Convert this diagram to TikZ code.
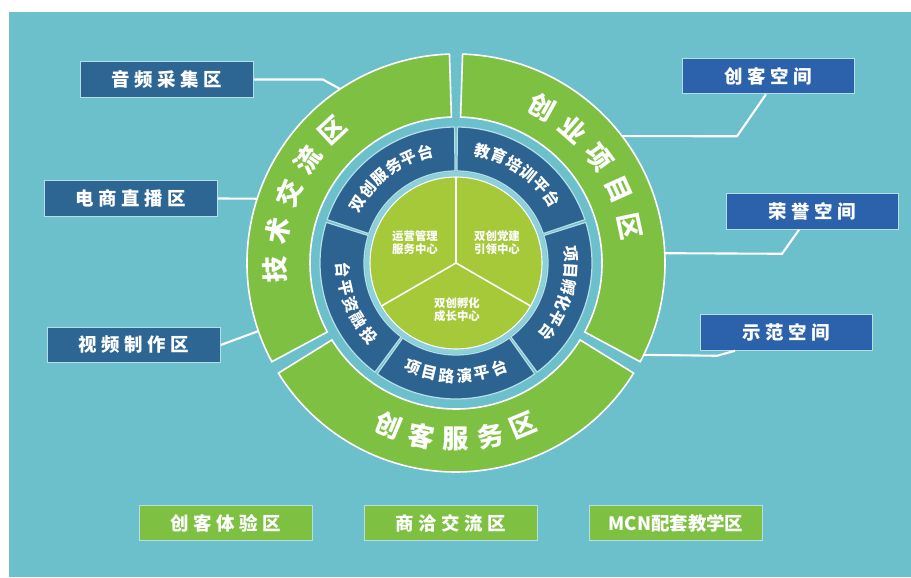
\documentclass[tikz,border=0pt]{standalone}
\usepackage{fontspec}
\setmainfont{Noto Sans CJK SC}
\newfontfamily\spacedfont{Noto Sans CJK SC}[LetterSpace=25]
\usetikzlibrary{positioning}

\definecolor{bgteal}{HTML}{6CC0CC}
\definecolor{ringgreen}{HTML}{7EC142}
\definecolor{coregreen}{HTML}{A6C93A}
\definecolor{ringblue}{HTML}{2D6390}
\definecolor{leftblue}{HTML}{2D6593}
\definecolor{rightblue}{HTML}{2C62AC}
\definecolor{paleteal}{HTML}{8CD0DA}
\definecolor{rimline}{HTML}{B5DEE6}

\tikzset{
  zonebox/.style={draw=rimline, line width=0.6pt, minimum width=3.45cm, minimum height=0.71cm,
    inner sep=0pt, text=white, font=\spacedfont\bfseries\fontsize{10.5}{12}\selectfont},
  leftbox/.style={zonebox, fill=leftblue},
  rightbox/.style={zonebox, fill=rightblue},
  greenbox/.style={zonebox, fill=ringgreen},
  link/.style={draw=white, line width=1.2pt},
  zoneseg/.style={fill=ringgreen, draw=white, line width=0.9pt},
  platseg/.style={fill=ringblue, draw=rimline, line width=0.7pt},
  zonetext/.style={text=white, inner sep=0pt, font=\bfseries\fontsize{15}{15}\selectfont},
  plattext/.style={text=white, inner sep=0pt, font=\bfseries\fontsize{9}{9}\selectfont},
  coretext/.style={text=white, align=center, inner sep=0pt, font=\bfseries\fontsize{6.5}{7.4}\selectfont}
}

\begin{document}
\begin{tikzpicture}[x=0.02cm, y=0.02cm]
    \useasboundingbox (0,0) rectangle (911,577);
    \fill[white] (0,0) rectangle (911,577);
    \fill[bgteal] (9,0) rectangle (911,565);

    % side and bottom zones
    \node[leftbox] (yp) at (167,497.5) {音频采集区};
    \node[leftbox] (ds) at (131,378.5) {电商直播区};
    \node[leftbox] (sp) at (134,232) {视频制作区};
    \node[rightbox] (ck) at (768.5,501) {创客空间};
    \node[rightbox] (ry) at (812.5,365.5) {荣誉空间};
    \node[rightbox] (sf) at (786.5,244.5) {示范空间};
    \node[greenbox] (ty) at (226,54) {创客体验区};
    \node[greenbox, right=1.03cm of ty] (sq) {商洽交流区};
    \node[greenbox, right=1.03cm of sq, font=\bfseries\fontsize{10.5}{12}\selectfont] (mcn) {MCN配套教学区};

    \begin{scope}[shift={(456,314)}]
        \coordinate (ctr) at (0,0);
        \coordinate (e1) at (123.5:208);
        \coordinate (e2) at (162:208);
        \coordinate (e3) at (199:208);
        \coordinate (e4) at (37.6:208);
        \coordinate (e5) at (2.7:208);
        \coordinate (e6) at (-26.2:208);

        \draw[link] (yp.east) -- ++(69,0) -- (e1);
        \draw[link] (ds.east) -- (e2);
        \draw[link] (sp.east) -- (e3);
        \draw[link] ([xshift=-0.05cm]ck.south) -- ++(-29,-42) -- (e4);
        \draw[link] ([xshift=-0.27cm]ry.south) -- ++(-17,-24) -- (e5);
        \draw[link] ([xshift=-1.03cm]sf.south) -- ++(-18,-5) -- (e6);

        % outer ring
        \foreach \a/\b in {91.8/208.2, 211.8/328.2, 331.8/448.2}
            \filldraw[zoneseg] (\a:146) arc[start angle=\a, end angle=\b, radius=146]
                -- (\b:209) arc[start angle=\b, end angle=\a, radius=209] -- cycle;

        % platform ring
        \foreach \a/\b in {18.6/89.4, 90.6/161.4, 162.6/233.4, 234.6/305.4, 306.6/377.4}
            \filldraw[platseg] (\a:92) arc[start angle=\a, end angle=\b, radius=92]
                -- (\b:136) arc[start angle=\b, end angle=\a, radius=136] -- cycle;

        % core
        \fill[paleteal] (ctr) circle[radius=91];
        \filldraw[fill=coregreen, draw=white, line width=0.6pt] (ctr) circle[radius=86];
        \foreach \a in {90,210,330}
            \draw[white, line width=0.9pt] (ctr) -- (\a:86);
        \node[coretext] (yy) at (-41,20) {运营管理\\服务中心};
        \node[coretext] (dj) at (41,20) {双创党建\\引领中心};
        \node[coretext] (fh) at (1,-47) {双创孵化\\成长中心};

        % zone labels on the outer ring
        \foreach \ch [count=\i from 0] in {技,术,交,流,区} {
            \pgfmathsetmacro{\ang}{182-12.25*\i}
            \node[zonetext, rotate=\ang-90] (jl\i) at (\ang:181) {\ch};
        }
        \foreach \ch [count=\i from 0] in {创,业,项,目,区} {
            \pgfmathsetmacro{\ang}{61-12.25*\i}
            \node[zonetext, rotate=\ang-90] (cy\i) at (\ang:178) {\ch};
        }
        \foreach \ch [count=\i from 0] in {创,客,服,务,区} {
            \pgfmathsetmacro{\ang}{247.5+11.25*\i}
            \node[zonetext, rotate=\ang+90] (fw\i) at (\ang:176) {\ch};
        }

        % platform labels
        \foreach \ch [count=\i from 0] in {双,创,服,务,平,台} {
            \pgfmathsetmacro{\ang}{148.8-8.64*\i}
            \node[plattext, rotate=\ang-90] (sc\i) at (\ang:115) {\ch};
        }
        \foreach \ch [count=\i from 0] in {教,育,培,训,平,台} {
            \pgfmathsetmacro{\ang}{76.8-8.6*\i}
            \node[plattext, rotate=\ang-90] (jy\i) at (\ang:115) {\ch};
        }
        \foreach \ch [count=\i from 0] in {项,目,孵,化,平,台} {
            \pgfmathsetmacro{\ang}{4.7-8.4*\i}
            \node[plattext, rotate=\ang-90] (xf\i) at (\ang:115) {\ch};
        }
        \foreach \ch [count=\i from 0] in {项,目,路,演,平,台} {
            \pgfmathsetmacro{\ang}{247.7+8.94*\i}
            \node[plattext, rotate=\ang+90] (ly\i) at (\ang:113) {\ch};
        }
        \foreach \ch [count=\i from 0] in {台,平,资,融,投} {
            \pgfmathsetmacro{\ang}{183.5+9.08*\i}
            \node[plattext, rotate=\ang+90] (tr\i) at (\ang:113) {\ch};
        }
    \end{scope}
\end{tikzpicture}
\end{document}
